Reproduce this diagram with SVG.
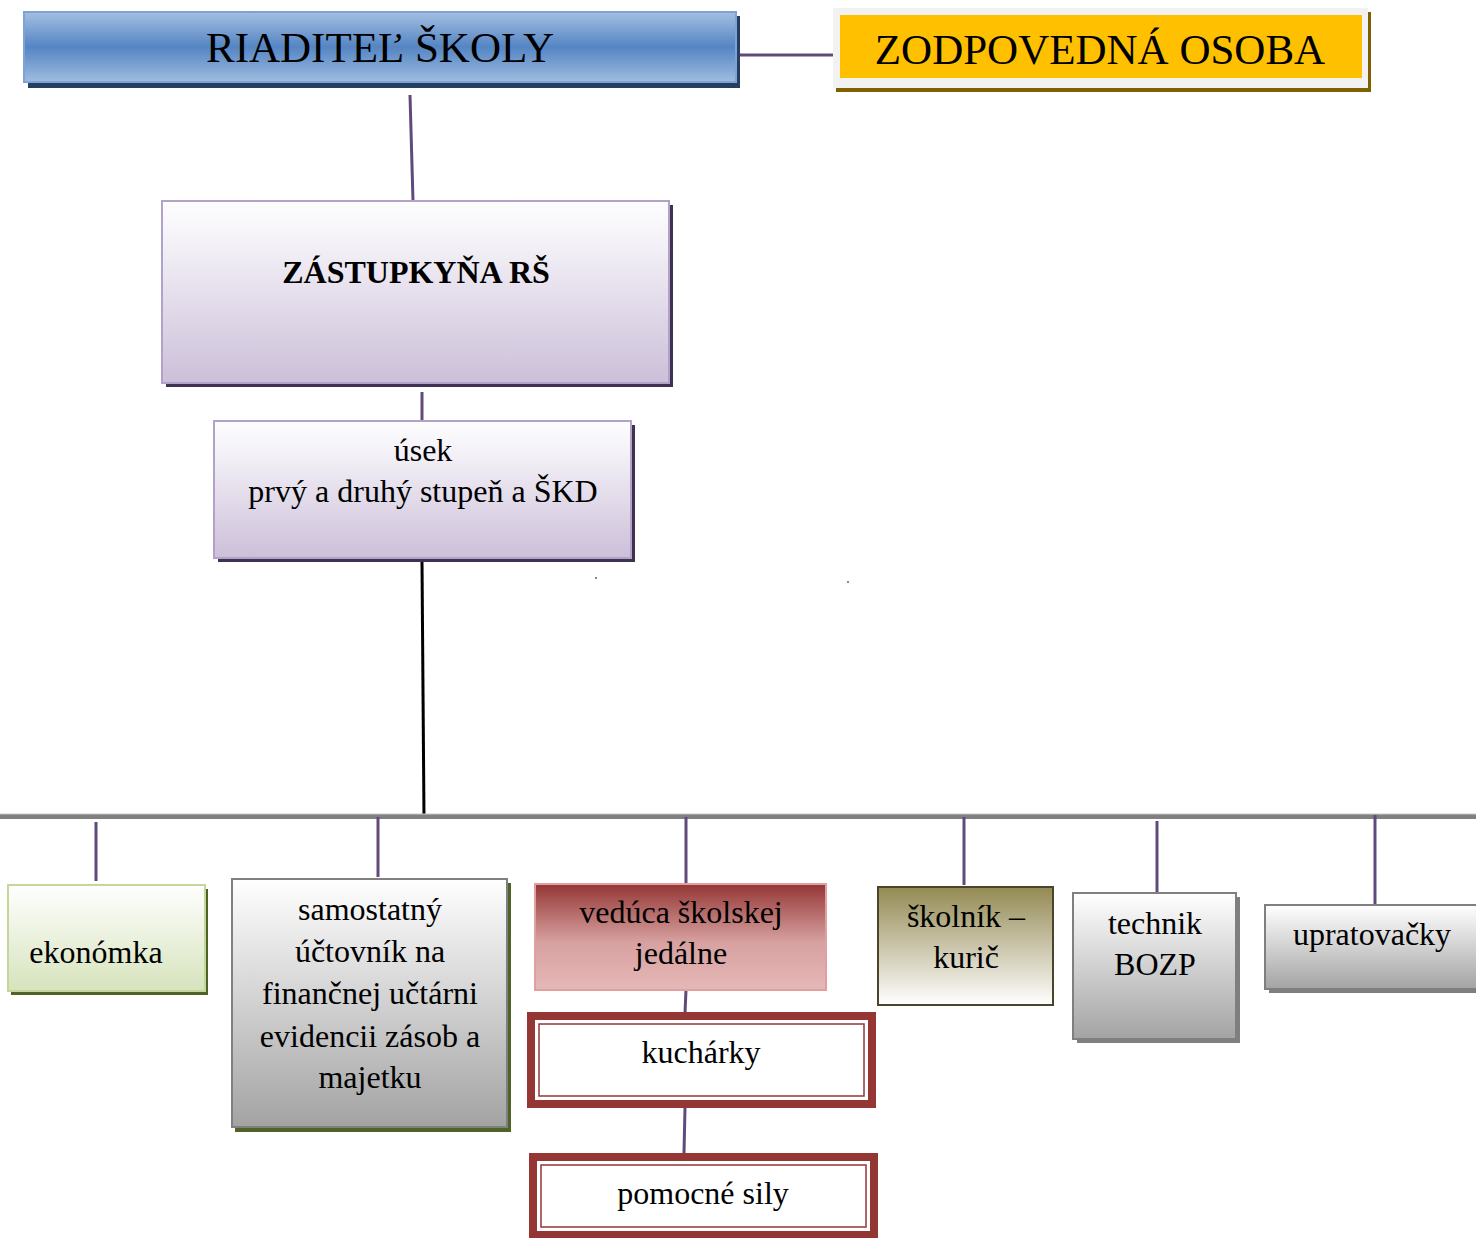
<svg xmlns="http://www.w3.org/2000/svg" width="1476" height="1238" viewBox="0 0 1476 1238">
<defs>
<linearGradient id="gBlue" x1="0" y1="0" x2="0" y2="1"><stop offset="0" stop-color="#a3bfe2"/><stop offset="0.5" stop-color="#5585c3"/><stop offset="1" stop-color="#9fbce0"/></linearGradient>
<linearGradient id="gPurple" x1="0" y1="0" x2="0" y2="1"><stop offset="0" stop-color="#fdfdfe"/><stop offset="0.2" stop-color="#f5f3f8"/><stop offset="1" stop-color="#ccbfd9"/></linearGradient>
<linearGradient id="gGreen" x1="0" y1="0" x2="0" y2="1"><stop offset="0" stop-color="#ffffff"/><stop offset="1" stop-color="#d6e3bc"/></linearGradient>
<linearGradient id="gGray" x1="0" y1="0" x2="0" y2="1"><stop offset="0" stop-color="#ffffff"/><stop offset="1" stop-color="#a3a3a3"/></linearGradient>
<linearGradient id="gRed" x1="0" y1="0" x2="0" y2="1"><stop offset="0" stop-color="#943735"/><stop offset="0.55" stop-color="#d7a1a0"/><stop offset="1" stop-color="#e5b8b7"/></linearGradient>
<linearGradient id="gOlive" x1="0" y1="0" x2="0" y2="1"><stop offset="0" stop-color="#948a54"/><stop offset="1" stop-color="#ffffff"/></linearGradient>
<style>
text{font-family:"Liberation Serif","Times New Roman",serif;fill:#000;text-anchor:middle}
.t{font-size:32px}
.big{font-size:43px}
.bold{font-size:32px;font-weight:bold}
.con{stroke:#604a7b;stroke-width:3;fill:none}
.dbl{fill:#943634}
</style>
</defs>

<g id="connectors">
<line class="con" x1="737" y1="55" x2="840" y2="55"/>
<line class="con" x1="410" y1="95" x2="413" y2="201"/>
<line class="con" x1="422" y1="392" x2="422" y2="421"/>
<line x1="422" y1="562" x2="424" y2="818" stroke="#000" stroke-width="3"/>
<line x1="0" y1="816.5" x2="1476" y2="816.5" stroke="#808080" stroke-width="5"/>
<line x1="0" y1="814" x2="1476" y2="814" stroke="#c8c8c8" stroke-width="1"/>
<line class="con" x1="96" y1="822" x2="96" y2="881"/>
<line class="con" x1="378" y1="817" x2="378" y2="877"/>
<line class="con" x1="686" y1="817" x2="686" y2="884"/>
<line class="con" x1="964" y1="817" x2="964" y2="885"/>
<line class="con" x1="1157" y1="821" x2="1157" y2="892"/>
<line class="con" x1="1375" y1="815" x2="1375" y2="905"/>
<line class="con" x1="686" y1="990" x2="685" y2="1013"/>
<line class="con" x1="685" y1="1108" x2="684" y2="1153"/>
<rect x="595" y="577" width="2" height="2" fill="#888"/>
<rect x="847" y="581" width="2" height="2" fill="#888"/>
</g>

<g id="riaditel">
<rect x="28" y="16" width="712" height="72" fill="#243f60"/>
<rect x="24" y="12" width="712" height="70" fill="url(#gBlue)" stroke="#7fa2d4" stroke-width="2"/>
<text class="big" x="380" y="62">RIADITEĽ ŠKOLY</text>
</g>

<g id="zodpovedna">
<rect x="836" y="12" width="535" height="80" fill="#7f6000"/>
<rect x="833" y="8" width="535" height="80" fill="#f2f2f2"/>
<rect x="840" y="15" width="522" height="63" fill="#ffc000"/>
<text class="big" x="1100" y="64">ZODPOVEDNÁ OSOBA</text>
</g>

<g id="zastupkyna">
<rect x="166" y="205" width="507" height="182" fill="#3f3151"/>
<rect x="162" y="201" width="507" height="182" fill="url(#gPurple)" stroke="#b3a2c7" stroke-width="2"/>
<text class="bold" x="416" y="283">ZÁSTUPKYŇA RŠ</text>
</g>

<g id="usek">
<rect x="218" y="425" width="417" height="137" fill="#3f3151"/>
<rect x="214" y="421" width="417" height="137" fill="url(#gPurple)" stroke="#b3a2c7" stroke-width="2"/>
<text class="t" x="423" y="461">úsek</text>
<text class="t" x="423" y="502">prvý a druhý stupeň a ŠKD</text>
</g>

<g id="ekonomka">
<rect x="11" y="889" width="197" height="106" fill="#4f6228"/>
<rect x="8" y="885" width="197" height="106" fill="url(#gGreen)" stroke="#c3d69b" stroke-width="2"/>
<text class="t" x="96" y="963">ekonómka</text>
</g>

<g id="samostatny">
<rect x="235" y="883" width="276" height="249" fill="#4f6228"/>
<rect x="232" y="879" width="275" height="248" fill="url(#gGray)" stroke="#808080" stroke-width="2"/>
<text class="t" x="370" y="920">samostatný</text>
<text class="t" x="370" y="962">účtovník na</text>
<text class="t" x="370" y="1004">finančnej učtárni</text>
<text class="t" x="370" y="1047">evidencii zásob a</text>
<text class="t" x="370" y="1088">majetku</text>
</g>

<g id="veduca">
<rect x="535" y="884" width="291" height="106" fill="url(#gRed)" stroke="#e0a09f" stroke-width="2"/>
<text class="t" x="681" y="923">vedúca školskej</text>
<text class="t" x="681" y="964">jedálne</text>
</g>

<g id="kucharky">
<rect class="dbl" x="527" y="1012" width="349" height="96"/>
<rect x="535" y="1020" width="333" height="80" fill="#fff"/>
<rect x="539" y="1024" width="325" height="72" fill="none" stroke="#943634" stroke-width="1.5"/>
<text class="t" x="701" y="1063">kuchárky</text>
</g>

<g id="pomocne">
<rect class="dbl" x="529" y="1153" width="349" height="86"/>
<rect x="537" y="1161" width="333" height="70" fill="#fff"/>
<rect x="541" y="1165" width="325" height="62" fill="none" stroke="#943634" stroke-width="1.5"/>
<text class="t" x="703" y="1204">pomocné sily</text>
</g>

<g id="skolnik">
<rect x="878" y="887" width="175" height="118" fill="url(#gOlive)" stroke="#4a442a" stroke-width="2"/>
<text class="t" x="966" y="927">školník –</text>
<text class="t" x="966" y="968">kurič</text>
</g>

<g id="technik">
<rect x="1077" y="897" width="163" height="146" fill="#7f7f7f"/>
<rect x="1073" y="893" width="163" height="146" fill="url(#gGray)" stroke="#7f7f7f" stroke-width="2"/>
<text class="t" x="1155" y="934">technik</text>
<text class="t" x="1155" y="975">BOZP</text>
</g>

<g id="upratovacky">
<rect x="1269" y="909" width="215" height="84" fill="#7f7f7f"/>
<rect x="1265" y="905" width="215" height="84" fill="url(#gGray)" stroke="#7f7f7f" stroke-width="2"/>
<text class="t" x="1372" y="945">upratovačky</text>
</g>
</svg>
